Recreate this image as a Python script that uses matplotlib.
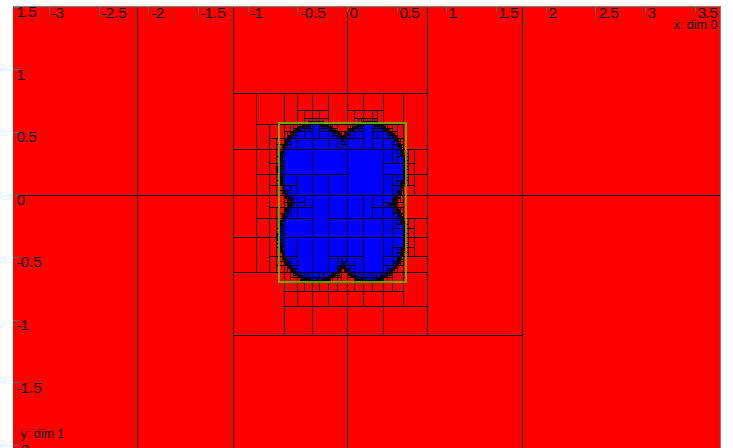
import matplotlib
matplotlib.use("Agg")
import matplotlib.pyplot as plt
import matplotlib.transforms as mtransforms
from matplotlib.collections import PolyCollection
from matplotlib.patches import Rectangle

plt.rcParams['font.family'] = ['Liberation Sans', 'DejaVu Sans']

# the set to pave: union of four lobes plus a core disk
disk_cx = [-0.32, 0.22, -0.32, 0.22, -0.05]
disk_cy = [0.21, 0.21, -0.33, -0.33, -0.06]
disk_r = [0.36, 0.36, 0.36, 0.36, 0.30]

# starting boxes of the paving
seed_xlo = [-4.0, -4.0, -2.11, -2.11, -1.15, 0.0, 0.81, 0.81, -1.15, 0.0, 1.76, 1.76,
            -1.15, 0.0, -1.15, 0.0]
seed_xhi = [-2.11, -2.11, -1.15, -1.15, 0.0, 0.81, 1.76, 1.76, 0.0, 1.76, 4.0, 4.0,
            0.0, 0.81, 0.0, 0.81]
seed_ylo = [0.0, -4.0, 0.0, -4.0, 0.81, 0.81, 0.0, -1.12, -4.0, -4.0, 0.0, -4.0,
            0.0, 0.0, -1.12, -1.12]
seed_yhi = [4.0, 0.0, 4.0, 0.0, 4.0, 4.0, 4.0, 0.0, -1.12, -1.12, 4.0, 0.0,
            0.81, 0.81, 0.0, 0.0]

eps = 0.007
ratio = 0.45

# hull of the set
hull_x = [-0.68, 0.594]
hull_y = [-0.70, 0.574]

xticks = [-3, -2.5, -2, -1.5, -1, -0.5, 0, 0.5, 1, 1.5, 2, 2.5, 3, 3.5]
yticks = [1.5, 1, 0.5, 0, -0.5, -1, -1.5, -2]


def sq_range(lo, hi):
    a, b = lo * lo, hi * hi
    if lo <= 0 <= hi:
        return 0.0, max(a, b)
    return min(a, b), max(a, b)


def classify(box):
    xlo, xhi, ylo, yhi = box
    inside = False
    outside = True
    for cx, cy, r in zip(disk_cx, disk_cy, disk_r):
        ax_lo, ax_hi = sq_range(xlo - cx, xhi - cx)
        ay_lo, ay_hi = sq_range(ylo - cy, yhi - cy)
        lo = ax_lo + ay_lo - r * r
        hi = ax_hi + ay_hi - r * r
        if hi < 0:
            inside = True
        if lo <= 0:
            outside = False
    if inside:
        return 'in'
    if outside:
        return 'out'
    return 'unknown'


def sivia(boxes):
    res = {'in': [], 'out': [], 'bound': []}
    stack = list(boxes)
    while stack:
        b = stack.pop()
        c = classify(b)
        if c != 'unknown':
            res[c].append(b)
            continue
        xlo, xhi, ylo, yhi = b
        if max(xhi - xlo, yhi - ylo) < eps:
            res['bound'].append(b)
        elif xhi - xlo >= yhi - ylo:
            m = xlo + ratio * (xhi - xlo)
            stack += [(xlo, m, ylo, yhi), (m, xhi, ylo, yhi)]
        else:
            m = ylo + ratio * (yhi - ylo)
            stack += [(xlo, xhi, ylo, m), (xlo, xhi, m, yhi)]
    return res


def verts(boxes):
    return [[(a, c), (b, c), (b, d), (a, d)] for a, b, c, d in boxes]


paving = sivia(zip(seed_xlo, seed_xhi, seed_ylo, seed_yhi))

fig = plt.figure(figsize=(7.33, 4.48), dpi=100)
ax = fig.add_axes([13 / 733, 0, 707 / 733, 442 / 448])
ax.set_xlim(-3.363, 3.756)
ax.set_ylim(-2.025, 1.506)

for key, col in [('out', '#ff0000'), ('in', '#0000ff'), ('bound', '#ffff00')]:
    pc = PolyCollection(verts(paving[key]), facecolors=col, edgecolors='black',
                        linewidths=0.7)
    ax.add_collection(pc)

ax.add_patch(Rectangle((hull_x[0], hull_y[0]), hull_x[1] - hull_x[0], hull_y[1] - hull_y[0],
                       fill=False, edgecolor='#5cc800', linewidth=1.2, zorder=3))

# axes frame and ticks drawn inside the plot
for s in ['left', 'bottom']:
    ax.spines[s].set_visible(False)
for s in ['top', 'right']:
    ax.spines[s].set_color('#808080')
ax.set_xticks(xticks)
ax.set_yticks(yticks)
ax.tick_params(axis='x', direction='in', top=True, bottom=False, labeltop=False,
               labelbottom=False, length=4, color='#606060')
ax.tick_params(axis='y', direction='in', left=True, labelleft=False, length=4,
               color='#606060')

xt = mtransforms.offset_copy(mtransforms.blended_transform_factory(ax.transData, ax.transAxes),
                             fig=fig, x=2, y=-1, units='points')
for t in xticks:
    ax.text(t, 1, f'{t:g}', transform=xt, ha='left', va='top', fontsize=11, clip_on=False)
yt = mtransforms.offset_copy(mtransforms.blended_transform_factory(ax.transAxes, ax.transData),
                             fig=fig, x=2.5, y=0.5, units='points')
for t in yticks:
    ax.text(0, t, f'{t:g}', transform=yt, ha='left', va='top', fontsize=11)

fig.text(718 / 733, 1 - 20 / 448, 'x: dim 0', ha='right', va='top', fontsize=9)
fig.text(21 / 733, (448 - 441) / 448, 'y: dim 1', ha='left', va='bottom', fontsize=9)

fig.savefig('out.png', dpi=100)
